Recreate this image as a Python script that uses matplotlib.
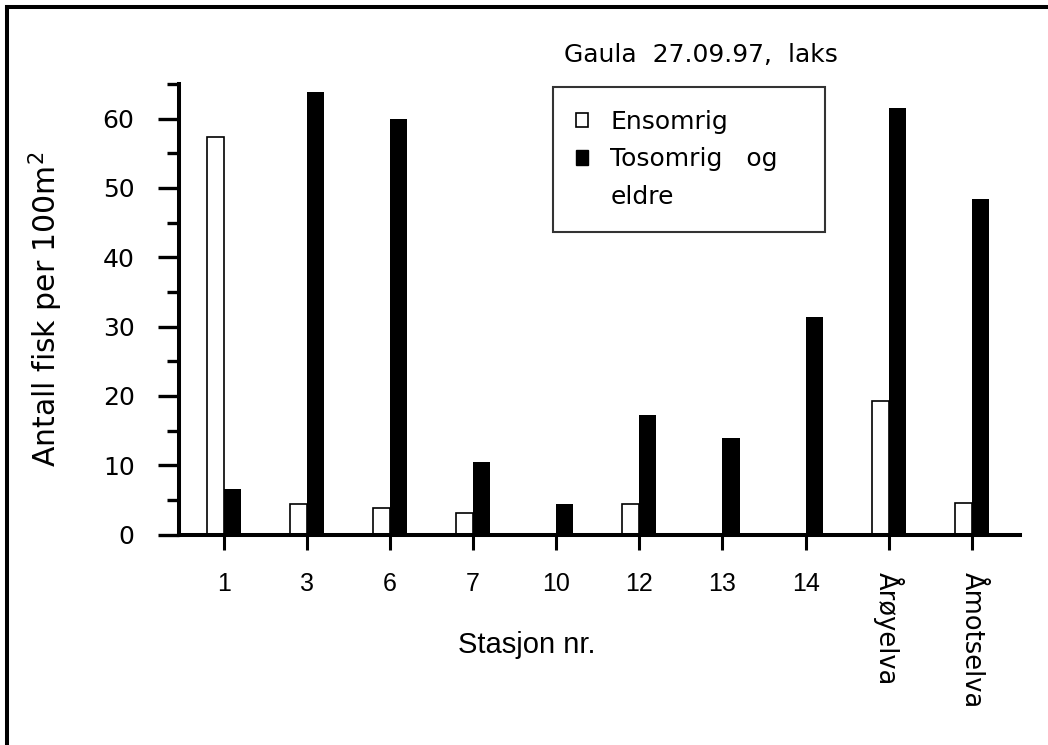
# Gaula 27.09.97 - laks, tetthet per stasjon

import numpy as np
import matplotlib.pyplot as plt
from matplotlib.patches import Patch
from matplotlib.lines import Line2D

stasjoner = ["1", "3", "6", "7", "10", "12", "13", "14", "Årøyelva", "Åmotselva"]
ensomrig = [57.3, 4.4, 3.8, 3.1, 0, 4.4, 0, 0, 19.3, 4.5]
tosomrig = [6.6, 63.8, 59.9, 10.5, 4.4, 17.2, 13.9, 31.4, 61.6, 48.4]

plt.rcParams['font.family'] = ['DejaVu Sans']
narrow = ['Liberation Sans Narrow', 'Liberation Sans', 'DejaVu Sans']

fig = plt.figure(figsize=(10.48, 7.45), dpi=100)
ax = fig.add_axes([179/1048, 1 - 534.5/745, (1020 - 179)/1048, (534.5 - 84)/745])

x = np.arange(len(stasjoner))
b = 0.205
ax.bar(x - b/2, ensomrig, b, color='white', edgecolor='black', linewidth=1.2)
ax.bar(x + b/2, tosomrig, b, color='black', edgecolor='black', linewidth=0)

ax.set_xlim(-0.54, 9.58)
ax.set_ylim(0, 65)

for s in ['top', 'right']:
    ax.spines[s].set_visible(False)
for s in ['left', 'bottom']:
    ax.spines[s].set_linewidth(2.9)

ax.set_yticks(np.arange(0, 61, 10))
ax.set_yticks(np.arange(5, 66, 10), minor=True)
ax.tick_params(axis='y', which='major', length=15, width=2.4, labelsize=18, pad=17)
ax.tick_params(axis='y', which='minor', length=9, width=2.4)
ax.tick_params(axis='x', which='major', length=11, width=2.2, pad=16)

ax.set_xticks(x)
ax.set_xticklabels(stasjoner)
for i, t in enumerate(ax.get_xticklabels()):
    t.set_family(narrow)
    t.set_fontsize(18)
    if len(stasjoner[i]) > 2:
        t.set_family('DejaVu Sans')
        t.set_rotation(270)
        t.set_va('top')
        t.set_ha('center')
        t.set_fontsize(18.5)

fig.text(527/1048, 1 - 645/745, "Stasjon nr.", fontsize=21, family=narrow,
         ha='center', va='center')
ax.set_ylabel("Antall fisk per 100m$^2$", fontsize=21.5, labelpad=27)

fig.text(701/1048, 1 - 55/745, "Gaula  27.09.97,  laks", fontsize=18,
         ha='center', va='center')

handles = [Patch(facecolor='white', edgecolor='black', linewidth=1.2),
           Patch(facecolor='black', edgecolor='black'),
           Patch(facecolor='none', edgecolor='none')]
leg = ax.legend(handles, ["Ensomrig", "Tosomrig   og   ", "eldre"],
                loc='upper left', bbox_to_anchor=(553/1048, 1 - 87/745),
                bbox_transform=fig.transFigure, fontsize=18, frameon=True,
                fancybox=False, handlelength=0.5, handleheight=0.5,
                handletextpad=0.9, labelspacing=0.55, borderpad=0.9,
                borderaxespad=0)
leg.get_frame().set_edgecolor('black')
leg.get_frame().set_linewidth(1.5)

# ramme rundt hele figuren (bare topp og venstre)
fig.add_artist(Line2D([7/1048, 1], [1 - 7/745, 1 - 7/745], color='black', linewidth=2.9))
fig.add_artist(Line2D([7/1048, 7/1048], [0, 1 - 7/745], color='black', linewidth=2.9))

fig.savefig("out.png", dpi=100)
